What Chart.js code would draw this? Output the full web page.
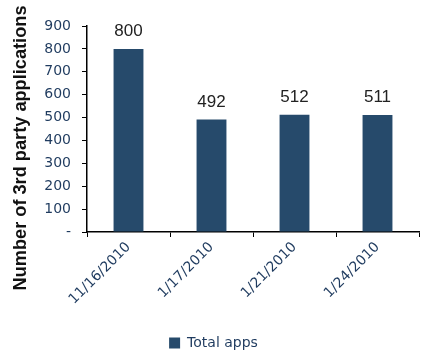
<!DOCTYPE html>
<html><head><meta charset="utf-8">
<script src="https://cdn.jsdelivr.net/npm/chart.js@4/dist/chart.umd.min.js"></script>
<style>html,body{margin:0;padding:0;background:#fff}#wrap{width:441px;height:360px}</style>
</head><body><div id="wrap"><canvas id="c" width="441" height="360"></canvas></div>
<script>
const categories = ["11/16/2010", "1/17/2010", "1/21/2010", "1/24/2010"];
const totalApps = [800, 492, 512, 511];
const yTicks = [0, 100, 200, 300, 400, 500, 600, 700, 800, 900];
const seriesName = "Total apps";
const yTitle = "Number of 3rd party applications";

const barColor = "#264a6b";
const axisText = "#1f3b5f";

const dataLabels = {
  id: 'dataLabels',
  afterDatasetsDraw(chart) {
    const ctx = chart.ctx;
    const meta = chart.getDatasetMeta(0);
    ctx.save();
    ctx.font = '17px "Liberation Sans", Arial, sans-serif';
    ctx.fillStyle = '#222';
    ctx.textAlign = 'center';
    ctx.textBaseline = 'bottom';
    meta.data.forEach((bar, i) => {
      ctx.fillText(String(chart.data.datasets[0].data[i]), bar.x, bar.y - 9);
    });
    ctx.restore();
  }
};
const yTitlePlugin = {
  id: 'yTitlePlugin',
  afterDraw(chart) {
    const ctx = chart.ctx;
    ctx.save();
    ctx.translate(21, 148);
    ctx.rotate(-Math.PI / 2);
    ctx.font = 'bold 18.2px "Liberation Sans", Arial, sans-serif';
    ctx.fillStyle = '#111';
    ctx.textAlign = 'center';
    ctx.textBaseline = 'middle';
    ctx.fillText(yTitle, 0, 0);
    ctx.restore();
  }
};

new Chart(document.getElementById('c'), {
  type: 'bar',
  data: {
    labels: categories,
    datasets: [{
      label: seriesName,
      data: totalApps,
      backgroundColor: barColor,
      barPercentage: 0.36,
      categoryPercentage: 1.0
    }]
  },
  options: {
    responsive: false,
    animation: false,
    layout: { padding: { top: 26, right: 22, left: 8, bottom: 0 } },
    plugins: {
      legend: {
        position: 'bottom',
        labels: {
          boxWidth: 11, boxHeight: 11, padding: 5,
          color: axisText,
          font: { family: '"DejaVu Sans", Verdana, sans-serif', size: 14 }
        }
      },
      tooltip: { enabled: false }
    },
    scales: {
      x: {
        offset: true,
        grid: { display: true, drawOnChartArea: false, drawTicks: true, tickLength: 5, color: '#000', offset: true },
        border: { display: true, color: '#000', width: 1.5 },
        ticks: {
          color: axisText, minRotation: 45, maxRotation: 45, padding: 2,
          font: { family: '"DejaVu Sans", Verdana, sans-serif', size: 14 }
        },
        afterFit(scale) { scale.height = 99; }
      },
      y: {
        min: 0, max: 900,
        afterBuildTicks(scale) { scale.ticks = yTicks.map(v => ({ value: v })); },
        grid: { display: true, drawOnChartArea: false, drawTicks: true, tickLength: 5, color: '#000' },
        border: { display: true, color: '#000', width: 1.5 },
        ticks: {
          color: axisText, padding: 11,
          font: { family: '"DejaVu Sans", Verdana, sans-serif', size: 14 },
          callback: (v) => v === 0 ? '-' : String(v)
        },
        afterFit(scale) { scale.width = 79; }
      }
    }
  },
  plugins: [dataLabels, yTitlePlugin]
});
</script>
</body></html>
